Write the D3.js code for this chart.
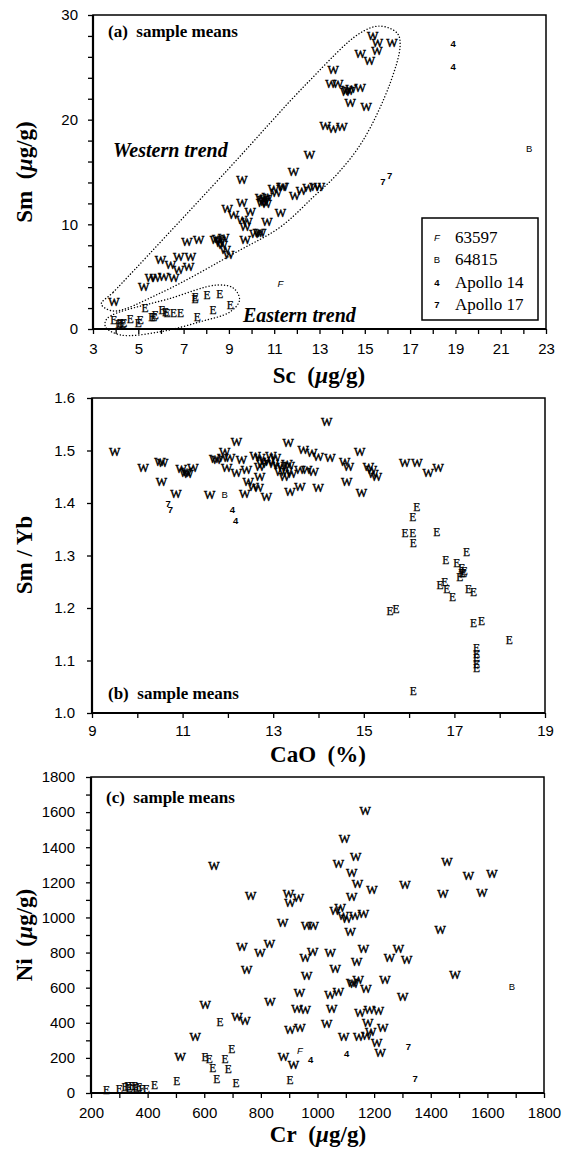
<!DOCTYPE html>
<html><head><meta charset="utf-8">
<script src="https://cdn.jsdelivr.net/npm/d3@7"></script>
<style>body{margin:0;background:#fff}</style>
</head><body>
<svg id="chart" width="562" height="1154"></svg>
<script>
// ---------- Panel (a): Sc vs Sm ----------
const aWest = [[15.35,28.0],[15.56,27.3],[15.53,26.6],[16.2,27.3],[14.8,26.3],[15.2,25.6],[13.6,24.7],[13.5,23.4],[13.8,23.4],[14.2,22.8],[14.15,22.6],[14.3,22.7],[14.4,22.9],[14.8,23.0],[14.35,21.6],[15.06,21.2],[13.25,19.4],[13.6,19.1],[13.99,19.3],[12.56,16.6],[11.85,15.0],[9.58,14.2],
[10.4,12.5],[10.5,12.3],[10.55,12.1],[10.6,12.4],[10.45,12.0],[10.7,12.6],[10.65,11.9],[10.97,13.4],[11.34,13.6],[11.1,13.0],[11.4,13.6],
[11.9,12.7],[12.2,13.2],[12.5,13.5],[12.8,13.6],[13.0,13.6],
[9.58,12.0],[8.92,11.5],[9.2,10.9],[9.94,11.2],[9.58,10.4],[9.72,9.77],[9.8,10.2],[10.68,10.25],[11.27,11.05],
[10.15,9.1],[10.3,9.2],[10.4,9.15],[9.72,8.5],
[8.4,8.5],[8.5,8.6],[8.6,8.4],[8.77,8.66],[8.7,8.0],[8.84,7.55],[8.99,7.07],[8.6,8.2],
[7.15,8.34],[7.66,8.5],
[5.98,6.59],[6.78,6.9],[7.3,6.85],[6.42,6.11],[7.22,5.95],[6.78,5.63],[6.56,4.84],[6.12,5.0],[5.76,4.84],[5.54,4.84],[5.24,3.98],[3.92,2.6]];
const aEast = [[3.92,0.86],[4.14,0.48],[4.2,0.6],[4.3,0.45],[4.36,0.54],[4.65,1.0],[5.0,0.54],[5.09,0.86],[5.3,2.0],[5.68,1.17],[5.75,1.3],[5.6,1.1],[6.05,1.8],[6.27,1.5],[6.2,1.6],[6.56,1.5],[6.86,1.5],[7.52,3.09],[7.5,2.9],[7.6,1.17],[8.03,3.25],[8.3,1.8],[8.6,3.34],[9.06,2.29]];
const aF = [[11.27,4.37]];
const aB = [[22.26,17.2]];
const aA14 = [[18.9,27.3],[18.9,25.1]];
const aA17 = [[15.8,14.1],[16.1,14.7]];
const aWestOutline = [[3.37,2.39],[3.9,3.53],[8.93,15.18],[12.5,23.59],[14.79,28.27],[15.68,28.94],[16.43,28.27],[16.56,27.13],[16.12,23.5],[14.93,18.05],[13.78,14.8],[12.72,12.6],[11.27,9.74],[9.5,7.55],[5.98,3.44],[3.9,1.72]];
const aEastOutline = [[3.63,1.02],[6.42,2.93],[8.48,4.2],[9.21,3.89],[9.47,2.77],[9.06,1.65],[7.74,0.7],[5.98,-0.26],[4.21,-0.57],[3.55,0.22]];
const aXTicks = d3.range(3, 23.01, 1), aXLabels = [3,5,7,9,11,13,15,17,19,21,23];
const aYTicks = d3.range(0, 30.01, 2), aYLabels = [0,10,20,30];

// ---------- Panel (b): CaO vs Sm/Yb ----------
const bWest = [[9.5,1.498],[10.13,1.466],[10.5,1.479],[10.56,1.477],[10.53,1.44],[10.85,1.417],
[10.97,1.464],[11.09,1.46],[11.23,1.466],[11.05,1.457],[11.12,1.455],[11.6,1.415],
[11.71,1.483],[11.76,1.482],[11.89,1.485],[11.93,1.498],[12.04,1.485],[12.3,1.482],[12.19,1.517],
[11.97,1.466],[12.19,1.457],[12.41,1.463],[12.7,1.469],
[12.45,1.44],[12.56,1.431],[12.67,1.428],[12.37,1.418],[12.85,1.412],[12.7,1.45],
[12.6,1.49],[12.7,1.485],[12.8,1.48],[12.9,1.478],[12.95,1.49],[13.0,1.475],[13.1,1.47],[13.2,1.468],[13.3,1.46],[13.4,1.455],[13.35,1.47],[12.75,1.475],[13.05,1.485],[13.15,1.46],[13.25,1.45],[13.3,1.475],
[13.33,1.515],[13.66,1.501],[13.85,1.495],[13.99,1.488],[14.25,1.485],[14.18,1.555],
[13.59,1.463],[13.74,1.463],[13.88,1.46],
[13.37,1.421],[13.59,1.431],[13.99,1.428],
[14.58,1.479],[14.66,1.469],[14.91,1.498],[14.62,1.44],[14.95,1.42],
[15.1,1.469],[15.17,1.463],[15.28,1.45],[15.2,1.455],
[15.9,1.476],[16.17,1.476],[16.42,1.457],[16.64,1.466]];
const bEast = [[16.17,1.393],[16.08,1.374],[16.08,1.342],[15.91,1.342],[16.09,1.323],[16.61,1.345],[17.27,1.307],[16.81,1.291],[17.05,1.285],[17.16,1.276],[17.16,1.266],[17.2,1.266],[17.12,1.26],[17.22,1.27],[16.68,1.244],[16.79,1.25],[16.83,1.237],[16.96,1.221],[17.31,1.237],[17.42,1.231],[15.58,1.195],[15.71,1.198],[17.42,1.171],[17.6,1.176],[18.21,1.139],[17.49,1.123],[17.49,1.113],[17.49,1.104],[17.49,1.094],[17.49,1.085],[16.09,1.041]];
const bB = [[11.93,1.417]];
const bA14 = [[12.1,1.387],[12.17,1.366]];
const bA17 = [[10.68,1.40],[10.73,1.387]];
const bXTicks = d3.range(9, 19.01, 1), bXLabels = [9,11,13,15,17,19];
const bYTicks = [1.0,1.1,1.2,1.3,1.4,1.5,1.6], bYLabels = [1.0,1.1,1.2,1.3,1.4,1.5,1.6];

// ---------- Panel (c): Cr vs Ni ----------
const cWest = [[634,1293],[764,1122],[897,1131],[933,1113],[903,1080],[877,966],[962,950],[985,950],
[733,833],[797,798],[830,851],[750,703],
[1168,1604],[1095,1446],[1135,1347],[1074,1303],[1121,1255],[1141,1189],[1192,1156],[1309,1183],
[1457,1316],[1533,1236],[1616,1250],[1443,1131],[1581,1141],[1121,1118],
[1062,1036],[1080,1055],[1091,1007],[1103,989],[1132,1011],[1162,1017],
[1115,916],[1433,927],
[956,770],[983,802],[1045,798],[1062,707],[1138,745],[1162,821],[1254,770],[1286,821],[1315,760],
[962,665],[1144,646],[1238,646],[1485,674],
[1121,627],[1128,622],[1171,593],
[936,570],[1044,560],[1074,573],[1301,547],
[927,478],[956,470],[1050,478],[1150,455],[1183,474],[1215,465],
[903,360],[938,373],[1032,394],[1177,401],[1230,370],[1188,350],
[1092,318],[1145,318],[1174,326],[1209,287],[1221,230],
[880,207],[915,160],
[832,516],[603,503],[715,433],[744,408],[568,318],[515,207]];
const cEast = [[255,17],[300,20],[320,35],[330,40],[335,30],[345,38],[355,42],[360,30],[370,35],[380,22],[395,20],[424,46],[503,70],[603,207],[618,193],[630,141],[656,402],[697,250],[673,193],[685,135],[644,78],[712,55],[903,72]];
const cF = [[938,242]];
const cB = [[1687,607]];
const cA14 = [[1103,227],[976,189]];
const cA17 = [[1321,265],[1345,84]];
const cXTicks = d3.range(200, 1800.1, 100), cXLabels = [200,400,600,800,1000,1200,1400,1600,1800];
const cYTicks = d3.range(0, 1800.1, 100), cYLabels = [0,200,400,600,800,1000,1200,1400,1600,1800];

const legendCodes = ["F","B","4","7"];
const legendNames = ["63597","64815","Apollo 14","Apollo 17"];

// ---------- drawing ----------
const svg = d3.select("#chart");
const SERIF = "'Liberation Serif','Times New Roman',serif";
const SANS = "'Liberation Sans',Arial,sans-serif";

function marks(g, x, y, data, ch, style) {
  g.selectAll(null).data(data).enter().append("text")
    .attr("x", d => x(d[0])).attr("y", d => y(d[1]))
    .attr("text-anchor", "middle").attr("dominant-baseline", "central")
    .attr("font-family", style.family).attr("font-size", style.size)
    .attr("font-style", style.italic ? "italic" : "normal")
    .attr("font-weight", style.weight || "normal")
    .attr("stroke", style.stroke ? "#000" : "none").attr("stroke-width", style.stroke || 0)
    .text(ch);
}
const stW = {family: SERIF, size: 12, stroke: 0.45};
const stE = {family: SERIF, size: 11.5, stroke: 0.25};
const stF = {family: SANS, size: 9.5, italic: true};
const stB = {family: SANS, size: 9.5};
const stN = {family: SANS, size: 9.5, weight: "bold"};

function panel(cfg) {
  const x = d3.scaleLinear().domain(cfg.xd).range([cfg.l, cfg.r]);
  const y = d3.scaleLinear().domain(cfg.yd).range([cfg.b, cfg.t]);
  const g = svg.append("g");
  const xa = d3.axisBottom(x).tickValues(cfg.xt).tickSize(5).tickPadding(cfg.xpad)
    .tickFormat(d => cfg.xl.some(v => Math.abs(v - d) < 1e-9) ? d3.format("d")(d) : "");
  const gx = g.append("g").attr("transform", `translate(0,${cfg.b})`).call(xa);
  const ya = d3.axisLeft(y).tickValues(cfg.yt).tickSize(5).tickPadding(cfg.ypad)
    .tickFormat(d => cfg.yl.some(v => Math.abs(v - d) < 1e-9) ? cfg.yf(d) : "");
  const gy = g.append("g").attr("transform", `translate(${cfg.l},0)`).call(ya);
  [gx, gy].forEach(a => {
    a.select(".domain").remove();
    a.selectAll(".tick line").attr("stroke", "#000").attr("stroke-width", 1.3);
    a.selectAll("text").attr("font-family", SANS).attr("font-size", 15).attr("fill", "#000");
  });
  g.append("rect").attr("x", cfg.l).attr("y", cfg.t).attr("width", cfg.r - cfg.l).attr("height", cfg.b - cfg.t)
    .attr("fill", "none").attr("stroke", "#000").attr("stroke-width", 1.5);
  g.append("line").attr("x1", cfg.l).attr("x2", cfg.l).attr("y1", cfg.t).attr("y2", cfg.b).attr("stroke", "#000").attr("stroke-width", 2.2);
  g.append("line").attr("x1", cfg.l).attr("x2", cfg.r).attr("y1", cfg.b).attr("y2", cfg.b).attr("stroke", "#000").attr("stroke-width", 2.2);
  return {g, x, y};
}

function titleX(g, cx, yb, parts) {
  const t = g.append("text").attr("x", cx).attr("y", yb).attr("text-anchor", "middle")
    .attr("font-family", SERIF).attr("font-size", 23).attr("font-weight", "bold");
  parts.forEach(p => t.append("tspan").attr("font-style", p[1] ? "italic" : "normal").text(p[0]));
}
function titleY(g, xc, cy, parts) {
  const t = g.append("text").attr("transform", `translate(${xc},${cy}) rotate(-90)`).attr("text-anchor", "middle")
    .attr("font-family", SERIF).attr("font-size", 23).attr("font-weight", "bold");
  parts.forEach(p => t.append("tspan").attr("font-style", p[1] ? "italic" : "normal").text(p[0]));
}
function label(g, x, y, txt) {
  g.append("text").attr("x", x).attr("y", y).attr("font-family", SERIF).attr("font-size", 17)
    .attr("font-weight", "bold").attr("xml:space", "preserve").text(txt);
}
const ugg = [["Sm\u00a0\u00a0(", false], ["\u00b5", true], ["g/g)", false]];

// Panel a
{
  const {g, x, y} = panel({xd: [3, 23], yd: [0, 30], l: 93, r: 546, t: 15, b: 329, xt: aXTicks, xl: aXLabels, yt: aYTicks, yl: aYLabels, yf: d3.format("d"), xpad: 9, ypad: 10});
  const dotted = d3.line().x(d => x(d[0])).y(d => y(d[1])).curve(d3.curveCatmullRomClosed.alpha(0.5));
  [aWestOutline, aEastOutline].forEach(o => g.append("path").attr("d", dotted(o)).attr("fill", "none")
    .attr("stroke", "#000").attr("stroke-width", 1.4).attr("stroke-dasharray", "0.1,3").attr("stroke-linecap", "round"));
  marks(g, x, y, aWest, "W", stW);
  marks(g, x, y, aEast, "E", stE);
  marks(g, x, y, aF, "F", stF);
  marks(g, x, y, aB, "B", stB);
  marks(g, x, y, aA14, "4", stN);
  marks(g, x, y, aA17, "7", stN);
  label(g, 108, 37, "(a)  sample means");
  g.append("text").attr("x", 113).attr("y", 157).attr("font-family", SERIF).attr("font-size", 20)
    .attr("font-weight", "bold").attr("font-style", "italic").text("Western trend");
  g.append("text").attr("x", 243).attr("y", 322).attr("font-family", SERIF).attr("font-size", 20)
    .attr("font-weight", "bold").attr("font-style", "italic").text("Eastern trend");
  const lg = g.append("g");
  lg.append("rect").attr("x", 422).attr("y", 218).attr("width", 116).attr("height", 102)
    .attr("fill", "#fff").attr("stroke", "#000").attr("stroke-width", 1.5);
  const styles = [stF, stB, stN, stN];
  legendCodes.forEach((c, i) => {
    const yy = 237 + i * 22.5;
    lg.append("text").attr("x", 437).attr("y", yy).attr("text-anchor", "middle").attr("dominant-baseline", "central")
      .attr("font-family", styles[i].family).attr("font-size", styles[i].size)
      .attr("font-style", styles[i].italic ? "italic" : "normal").attr("font-weight", styles[i].weight || "normal").text(c);
    lg.append("text").attr("x", 455).attr("y", yy + 5.5).attr("font-family", SERIF).attr("font-size", 17).text(legendNames[i]);
  });
  titleX(g, 319, 383, [["Sc\u00a0\u00a0(", false], ["\u00b5", true], ["g/g)", false]]);
  titleY(g, 32, 172, ugg);
}
// Panel b
{
  const {g, x, y} = panel({xd: [9, 19], yd: [1.0, 1.6], l: 92, r: 545, t: 398, b: 713, xt: bXTicks, xl: bXLabels, yt: bYTicks, yl: bYLabels, yf: d3.format(".1f"), xpad: 7, ypad: 12});
  marks(g, x, y, bWest, "W", stW);
  marks(g, x, y, bEast, "E", stE);
  marks(g, x, y, bB, "B", stB);
  marks(g, x, y, bA14, "4", stN);
  marks(g, x, y, bA17, "7", stN);
  label(g, 108, 699, "(b)  sample means");
  titleX(g, 318, 762, [["CaO\u00a0\u00a0(%)", false]]);
  titleY(g, 32, 555, [["Sm / Yb", false]]);
}
// Panel c
{
  const {g, x, y} = panel({xd: [200, 1800], yd: [0, 1800], l: 91, r: 544, t: 777, b: 1093, xt: cXTicks, xl: cXLabels, yt: cYTicks, yl: cYLabels, yf: d3.format("d"), xpad: 9, ypad: 11});
  marks(g, x, y, cWest, "W", stW);
  marks(g, x, y, cEast, "E", stE);
  marks(g, x, y, cF, "F", stF);
  marks(g, x, y, cB, "B", stB);
  marks(g, x, y, cA14, "4", stN);
  marks(g, x, y, cA17, "7", stN);
  label(g, 106, 803, "(c)  sample means");
  titleX(g, 318, 1142, [["Cr\u00a0\u00a0(", false], ["\u00b5", true], ["g/g)", false]]);
  titleY(g, 32, 935, [["Ni\u00a0\u00a0(", false], ["\u00b5", true], ["g/g)", false]]);
}
</script>
</body></html>
